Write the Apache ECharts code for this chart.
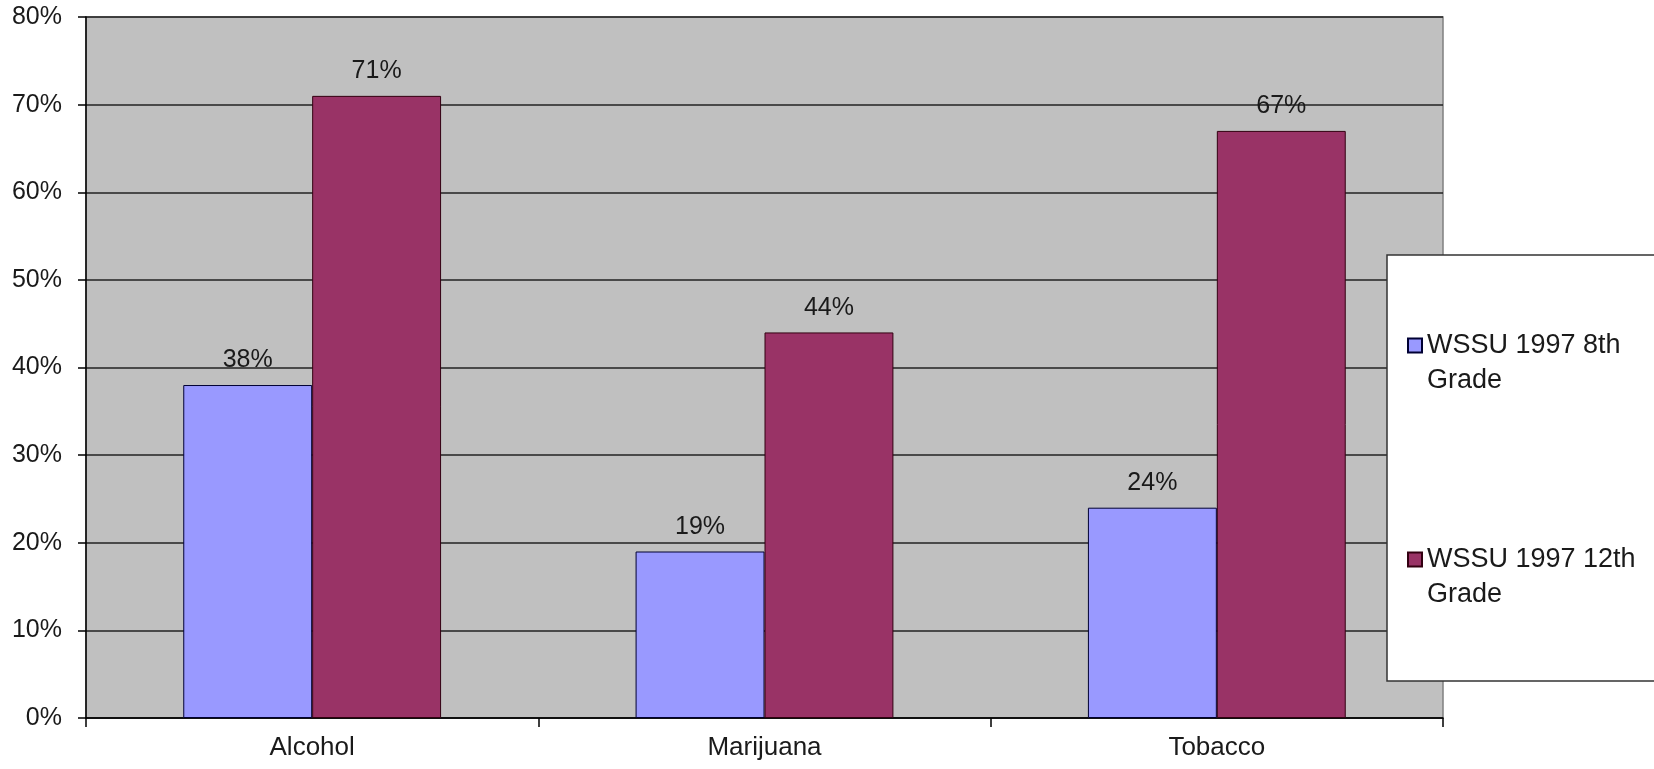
<!DOCTYPE html>
<html>
<head>
<meta charset="utf-8">
<script src="https://cdn.jsdelivr.net/npm/echarts@6/dist/echarts.min.js"></script>
<style>
html,body{margin:0;padding:0;background:#fff;}
#chart{width:1654px;height:769px;}
</style>
</head>
<body>
<div id="chart"></div>
<script>
var categories = ['Alcohol', 'Marijuana', 'Tobacco'];
var seriesNames = ['WSSU 1997 8th Grade', 'WSSU 1997 12th Grade'];
var grade8 = [38, 19, 24];
var grade12 = [71, 44, 67];
var yTicks = {min: 0, max: 80, interval: 10};

var FONT = '"Liberation Sans", Arial, sans-serif';
var chart = echarts.init(document.getElementById('chart'), null, {renderer: 'canvas'});

var labelOpt = {
  show: true,
  position: 'top',
  distance: 12,
  formatter: '{c}%',
  fontFamily: FONT,
  fontSize: 25,
  color: '#1a1a1a'
};

// square marker in the top 14px of a 14x49 icon box, so it lines up with the first text line
var legendIcon = 'path://M0,0L14,0L14,14L0,14Z M14,49L14,49';

chart.setOption({
  animation: false,
  backgroundColor: '#ffffff',
  grid: {
    left: 86, right: 211, top: 17, bottom: 51,
    show: true,
    backgroundColor: '#C0C0C0',
    borderColor: '#808080',
    borderWidth: 1.5
  },
  legend: {
    orient: 'vertical',
    left: 1387,
    top: 255,
    data: seriesNames,
    formatter: function (name) {
      return name.replace(' Grade', '\nGrade');
    },
    icon: legendIcon,
    itemWidth: 14,
    itemHeight: 49,
    itemGap: 144,
    padding: [73, 80, 69, 20],
    backgroundColor: '#ffffff',
    borderColor: '#333333',
    borderWidth: 1.5,
    textStyle: {
      fontFamily: FONT,
      fontSize: 27,
      color: '#1a1a1a',
      lineHeight: 35
    }
  },
  xAxis: {
    type: 'category',
    data: categories,
    axisLine: {lineStyle: {color: '#000', width: 1.5}},
    axisTick: {show: true, length: 9, lineStyle: {color: '#000', width: 1.5}},
    axisLabel: {fontFamily: FONT, fontSize: 26, color: '#1a1a1a', margin: 17},
    splitLine: {show: false}
  },
  yAxis: {
    type: 'value',
    min: yTicks.min,
    max: yTicks.max,
    interval: yTicks.interval,
    axisLine: {show: true, lineStyle: {color: '#000', width: 1.5}},
    axisTick: {show: true, length: 8, lineStyle: {color: '#000', width: 1.5}},
    axisLabel: {formatter: '{value}%', fontFamily: FONT, fontSize: 25, color: '#1a1a1a', margin: 24},
    splitLine: {show: true, lineStyle: {color: '#222', width: 1.5}}
  },
  series: [
    {
      name: seriesNames[0],
      type: 'bar',
      data: grade8,
      barGap: '0%',
      barCategoryGap: '43%',
      itemStyle: {color: '#9999FF', borderColor: '#000033', borderWidth: 1},
      label: labelOpt
    },
    {
      name: seriesNames[1],
      type: 'bar',
      data: grade12,
      barGap: '0%',
      barCategoryGap: '43%',
      itemStyle: {color: '#993366', borderColor: '#330011', borderWidth: 1},
      label: labelOpt
    }
  ]
});
</script>
</body>
</html>
